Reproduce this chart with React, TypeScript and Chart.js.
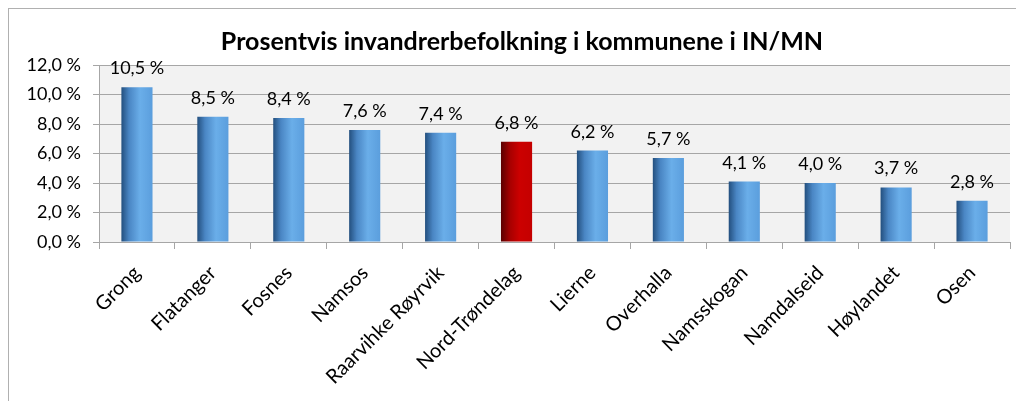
import React, { useEffect, useRef } from "react";
import { Chart, registerables } from "chart.js";

Chart.register(...registerables);

const categories = ["Grong", "Flatanger", "Fosnes", "Namsos", "Raarvihke Røyrvik", "Nord-Trøndelag", "Lierne", "Overhalla", "Namsskogan", "Namdalseid", "Høylandet", "Osen"];
const values = [10.5, 8.5, 8.4, 7.6, 7.4, 6.8, 6.2, 5.7, 4.1, 4.0, 3.7, 2.8];
const highlightIndex = 5;
const yTicks = [0, 2, 4, 6, 8, 10, 12];
const titleText = "Prosentvis invandrerbefolkning i kommunene i IN/MN";

const FONT = "Lato, 'Open Sans', sans-serif";
const fmt = (v: number) => v.toFixed(1).replace(".", ",") + " %";

export default function App() {
  const ref = useRef<HTMLCanvasElement | null>(null);
  useEffect(() => {
    document.documentElement.style.overflow = "hidden";
    const canvas = ref.current!;
    const labelPlugin = {
      id: "barLabels",
      afterDatasetsDraw(chart: any) {
        const ctx = chart.ctx;
        const meta = chart.getDatasetMeta(0);
        ctx.save();
        ctx.font = `18px ${FONT}`;
        ctx.fillStyle = "#000";
        ctx.textAlign = "center";
        ctx.textBaseline = "alphabetic";
        meta.data.forEach((bar: any, i: number) => {
          ctx.fillText(fmt(values[i]), bar.x, bar.y - 13);
        });
        ctx.restore();
      },
    };
    const titlePlugin = {
      id: "customTitle",
      afterDraw(chart: any) {
        const ctx = chart.ctx;
        ctx.save();
        ctx.font = `bold 25px ${FONT}`;
        ctx.fillStyle = "#000";
        ctx.textAlign = "center";
        ctx.textBaseline = "alphabetic";
        ctx.fillText(titleText, 513, 41);
        ctx.restore();
      },
    };
    const bgPlugin = {
      id: "plotBg",
      beforeDraw(chart: any) {
        const { ctx, chartArea } = chart;
        ctx.save();
        ctx.fillStyle = "#f2f2f2";
        ctx.fillRect(chartArea.left, chartArea.top, chartArea.right - chartArea.left, chartArea.bottom - chartArea.top);
        ctx.restore();
      },
    };
    const chart = new Chart(canvas, {
      type: "bar",
      data: {
        labels: categories,
        datasets: [
          {
            data: values,
            categoryPercentage: 1,
            barPercentage: 0.41,
            borderWidth: 0,
            backgroundColor: (c: any) => {
              const ch = c.chart;
              const red = c.dataIndex === highlightIndex;
              const xs = ch.scales && ch.scales.x;
              if (!xs || c.dataIndex === undefined) return red ? "#c00000" : "#5b9bd5";
              const cx = xs.getPixelForValue(c.dataIndex);
              const w = (xs.width / categories.length) * 0.41;
              if (!isFinite(cx) || !isFinite(w) || w <= 0) return red ? "#c00000" : "#5b9bd5";
              const g = ch.ctx.createLinearGradient(cx - w / 2, 0, cx + w / 2, 0);
              if (red) {
                g.addColorStop(0, "#5a0000");
                g.addColorStop(0.3, "#a80000");
                g.addColorStop(0.6, "#cc0000");
                g.addColorStop(1, "#c40000");
              } else {
                g.addColorStop(0, "#234f7e");
                g.addColorStop(0.25, "#4a86c4");
                g.addColorStop(0.6, "#6aaee9");
                g.addColorStop(1, "#5b9edd");
              }
              return g;
            },
          },
        ],
      },
      options: {
        animation: false,
        responsive: false,
        maintainAspectRatio: false,
        layout: { padding: { left: 0, right: 14, top: 56, bottom: 0 } },
        plugins: {
          legend: { display: false },
          tooltip: { enabled: false },
          title: { display: false },
        },
        scales: {
          x: {
            grid: { display: true, drawOnChartArea: false, color: "#a6a6a6", tickLength: 7, offset: true },
            border: { display: true, color: "#a6a6a6" },
            ticks: {
              color: "#000",
              font: { family: FONT, size: 20 },
              maxRotation: 45,
              minRotation: 45,
              autoSkip: false,
              padding: 12,
            },
            afterFit: (s: any) => {
              s.height = 159;
            },
          },
          y: {
            min: 0,
            max: 12,
            afterBuildTicks: (s: any) => {
              s.ticks = yTicks.map((v) => ({ value: v }));
            },
            grid: { color: "#a6a6a6", tickLength: 6 },
            border: { display: true, color: "#a6a6a6" },
            ticks: {
              color: "#000",
              font: { family: FONT, size: 18 },
              padding: 12,
              callback: (v: any) => fmt(Number(v)),
            },
            afterFit: (s: any) => {
              s.width = 90;
            },
          },
        },
      },
      plugins: [bgPlugin, labelPlugin, titlePlugin],
    } as any);
    return () => chart.destroy();
  }, []);
  return (
    <div
      style={{
        width: 1016,
        height: 393,
        boxSizing: "border-box",
        borderLeft: "1px solid #b0b0b0",
        borderTop: "1px solid #b0b0b0",
        overflow: "hidden",
      }}
    >
      <canvas ref={ref} width={1015} height={392} style={{ display: "block" }} />
    </div>
  );
}
